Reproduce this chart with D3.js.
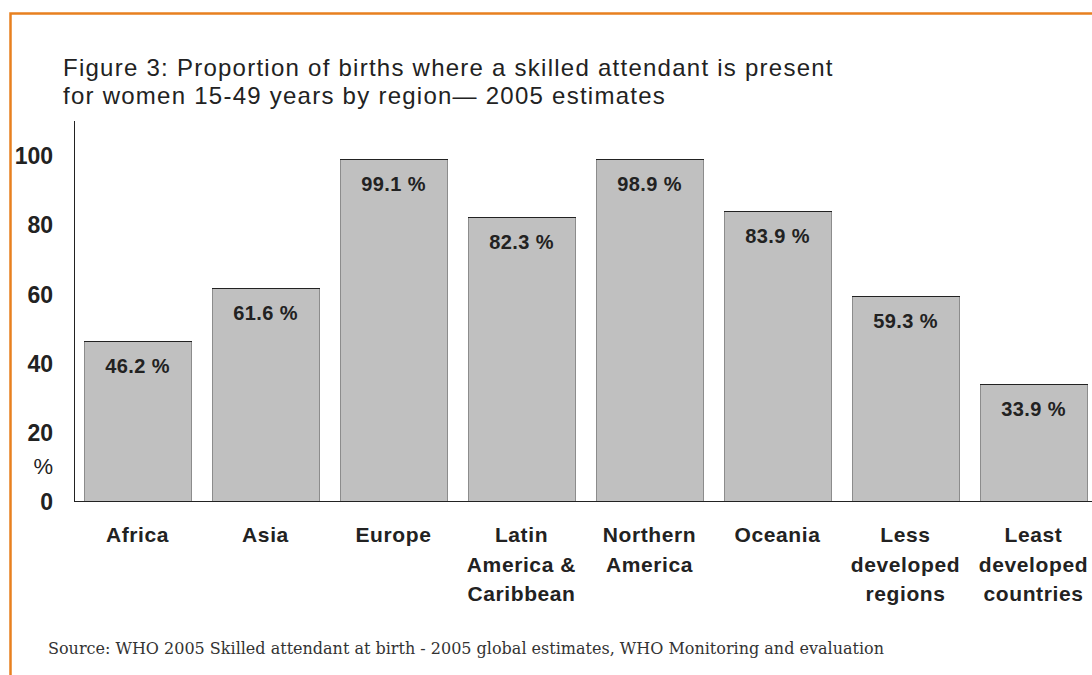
<!DOCTYPE html>
<html>
<head>
<meta charset="utf-8">
<script src="https://cdn.jsdelivr.net/npm/d3@7"></script>
<style>
  body { margin: 0; background: #fff; }
  svg { display: block; }
</style>
</head>
<body>
<div id="chart"></div>
<script>
const regions = [
  ["Africa"],
  ["Asia"],
  ["Europe"],
  ["Latin", "America &", "Caribbean"],
  ["Northern", "America"],
  ["Oceania"],
  ["Less", "developed", "regions"],
  ["Least", "developed", "countries"]
];
const values = [46.2, 61.6, 99.1, 82.3, 98.9, 83.9, 59.3, 33.9];
const yTicks = [0, 20, 40, 60, 80, 100];
const titleLines = [
  "Figure 3: Proportion of births where a skilled attendant is present",
  "for women 15-49 years by region\u2014 2005 estimates"
];
const source = "Source: WHO 2005 Skilled attendant at birth - 2005 global estimates, WHO Monitoring and evaluation";

const width = 1092;
const height = 675;
const font = "'Liberation Sans', Arial, sans-serif";

const svg = d3
  .select("#chart")
  .append("svg")
  .attr("width", width)
  .attr("height", height);

// orange frame (top and left edges only)
svg
  .append("path")
  .attr("d", `M10.5,${height} V13.5 H${width}`)
  .attr("fill", "none")
  .attr("stroke", "#e8801f")
  .attr("stroke-width", 2.5);

svg
  .append("g")
  .selectAll("text")
  .data(titleLines)
  .enter()
  .append("text")
  .attr("x", 63)
  .attr("y", (d, i) => 76 + i * 28)
  .attr("font-family", font)
  .attr("font-size", 24)
  .attr("letter-spacing", 1.25)
  .attr("fill", "#222")
  .text((d) => d);

const names = regions.map((d) => d.join(" "));

const x = d3
  .scaleBand()
  .domain(names)
  .range([73.5, 1097.5])
  .paddingInner(0.164)
  .paddingOuter(0.082);

const y = d3.scaleLinear().domain([0, 110]).range([501, 121]);

// y tick labels
const yAxis = d3.axisLeft(y).tickValues(yTicks).tickSize(0).tickPadding(0);
const gy = svg.append("g").attr("transform", "translate(53,0)").call(yAxis);
gy.select(".domain").remove();
gy.selectAll("text")
  .attr("font-family", font)
  .attr("font-size", 23)
  .attr("font-weight", "bold")
  .attr("fill", "#222")
  .attr("dy", "0.36em");

svg
  .append("text")
  .attr("x", 53)
  .attr("y", y(10))
  .attr("dy", "0.36em")
  .attr("text-anchor", "end")
  .attr("font-family", font)
  .attr("font-size", 22)
  .attr("fill", "#222")
  .text("%");

// bars
const bars = svg
  .append("g")
  .selectAll("g")
  .data(values)
  .enter()
  .append("g");

bars
  .append("rect")
  .attr("x", (d, i) => Math.round(x(names[i])) + 0.5)
  .attr("y", (d) => Math.round(y(d)) + 0.5)
  .attr("width", Math.round(x.bandwidth()))
  .attr("height", (d) => Math.round(y(0) - y(d)))
  .attr("fill", "#c0c0c0")
  .attr("stroke", "#8c8c8c")
  .attr("stroke-width", 1);

bars
  .append("line")
  .attr("x1", (d, i) => Math.round(x(names[i])))
  .attr("x2", (d, i) => Math.round(x(names[i])) + Math.round(x.bandwidth()) + 1)
  .attr("y1", (d) => Math.round(y(d)) + 0.5)
  .attr("y2", (d) => Math.round(y(d)) + 0.5)
  .attr("stroke", "#222");

bars
  .append("text")
  .attr("x", (d, i) => x(names[i]) + x.bandwidth() / 2)
  .attr("y", (d) => y(d) + 32)
  .attr("text-anchor", "middle")
  .attr("font-family", font)
  .attr("font-size", 20)
  .attr("font-weight", "bold")
  .attr("letter-spacing", 0.4)
  .attr("fill", "#222")
  .text((d) => `${d.toFixed(1)} %`);

// axis lines
svg
  .append("line")
  .attr("x1", 74.5)
  .attr("x2", 74.5)
  .attr("y1", 121)
  .attr("y2", 502)
  .attr("stroke", "#222");

svg
  .append("line")
  .attr("x1", 74)
  .attr("x2", width)
  .attr("y1", 501.5)
  .attr("y2", 501.5)
  .attr("stroke", "#222");

// category labels
const cats = svg
  .append("g")
  .selectAll("text")
  .data(regions)
  .enter()
  .append("text")
  .attr("x", (d, i) => x(names[i]) + x.bandwidth() / 2)
  .attr("y", 542)
  .attr("text-anchor", "middle")
  .attr("font-family", font)
  .attr("font-size", 21)
  .attr("font-weight", "bold")
  .attr("letter-spacing", 0.6)
  .attr("fill", "#222");

cats
  .selectAll("tspan")
  .data((d) => d)
  .enter()
  .append("tspan")
  .attr("x", function () {
    return this.parentNode.getAttribute("x");
  })
  .attr("dy", (d, i) => (i === 0 ? 0 : 29.5))
  .text((d) => d);

svg
  .append("text")
  .attr("x", 48)
  .attr("y", 654)
  .attr("font-family", "'DejaVu Serif', 'Liberation Serif', serif")
  .attr("font-size", 16)
  .attr("fill", "#333")
  .text(source);
</script>
</body>
</html>
